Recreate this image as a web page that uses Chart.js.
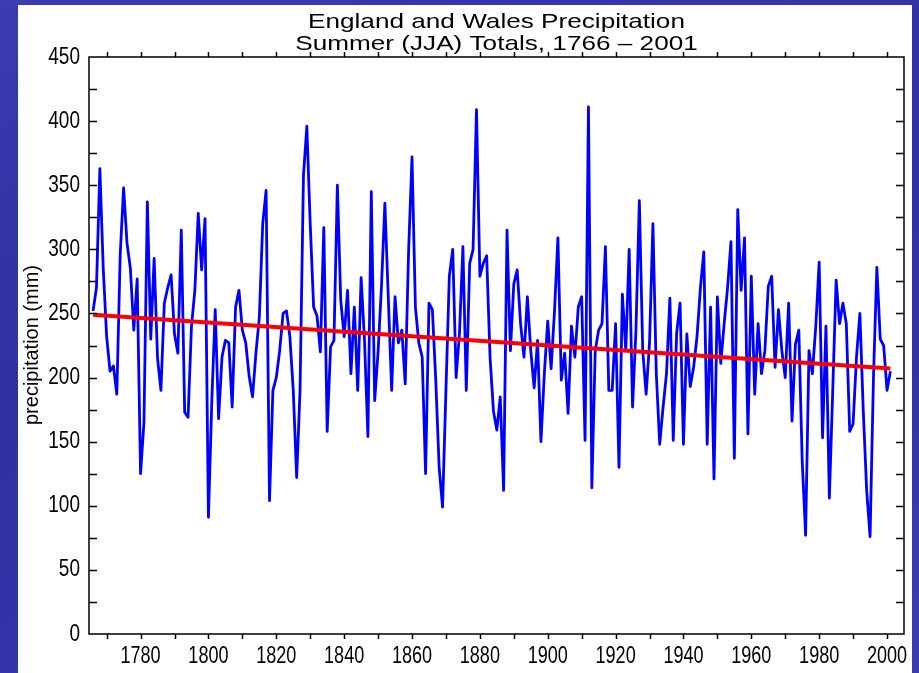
<!DOCTYPE html>
<html>
<head>
<meta charset="utf-8">
<title>England and Wales Precipitation</title>
<script src="https://cdn.jsdelivr.net/npm/chart.js@4.4.1/dist/chart.umd.min.js"></script>
<style>
  html, body { margin: 0; padding: 0; }
  body {
    width: 919px; height: 673px; overflow: hidden; position: relative;
    background: linear-gradient(165deg, #3b3bb2 0%, #2f2fa2 45%, #3a3ab4 100%);
  }
  #panel { position: absolute; left: 18px; top: 5px; width: 894px; height: 668px; background: #fff; }
</style>
</head>
<body>
<div id="panel"><canvas id="myChart" width="894" height="668"></canvas></div>
<script>
// summer (JJA) totals in mm
const precip1766_1799 = [252, 270, 363, 285, 232, 205, 209, 187, 296, 348,
  305, 285, 237, 277, 125, 165, 337, 230, 293, 215,
  190, 258, 270, 280, 234, 219, 315, 173, 169, 240,
  268, 328, 284, 324];
const precip1800_1833 = [91, 182, 253, 168, 216, 229, 227, 177, 255, 268,
  237, 227, 201, 185, 219, 247, 320, 346, 104, 190,
  200, 221, 250, 252, 232, 190, 122, 190, 357, 396,
  320, 255, 248, 220];
const precip1834_1867 = [317, 158, 224, 229, 350, 260, 232, 268, 203, 255,
  190, 278, 229, 154, 345, 182, 220, 271, 336, 263,
  190, 263, 227, 237, 195, 299, 372, 255, 227, 216,
  125, 258, 253, 198];
const precip1868_1901 = [130, 99, 190, 279, 300, 200, 235, 302, 190, 289,
  300, 409, 279, 289, 295, 216, 174, 159, 185, 112,
  315, 221, 273, 284, 242, 216, 263, 221, 192, 229,
  150, 203, 244, 207];
const precip1902_1935 = [252, 309, 198, 219, 172, 240, 216, 255, 263, 151,
  411, 114, 221, 237, 242, 302, 190, 190, 242, 130,
  265, 221, 300, 177, 237, 338, 221, 187, 227, 320,
  203, 148, 177, 203];
const precip1936_1969 = [262, 151, 235, 258, 148, 234, 193, 208, 232, 270,
  298, 148, 255, 121, 263, 211, 242, 270, 306, 137,
  331, 268, 309, 156, 279, 187, 242, 203, 221, 271,
  279, 208, 253, 221];
const precip1970_2001 = [200, 258, 166, 226, 237, 135, 77, 221, 203, 240,
  290, 153, 240, 106, 190, 276, 242, 258, 242, 158,
  164, 216, 250, 174, 112, 76, 200, 286, 230, 225,
  190, 205];

const precip = [].concat(precip1766_1799, precip1800_1833, precip1834_1867,
  precip1868_1901, precip1902_1935, precip1936_1969, precip1970_2001);

const years = [];
for (let yr = 1766; yr <= 2001; yr++) years.push(yr);

// linear trend, end values
const trendYears = [1766, 2001];
const trendValues = [249, 207];

const xTickLabels = [1780, 1800, 1820, 1840, 1860, 1880, 1900, 1920, 1940, 1960, 1980, 2000];
const xTickMarks = [1770, 1780, 1790, 1800, 1810, 1820, 1830, 1840, 1850, 1860, 1870, 1880,
  1890, 1900, 1910, 1920, 1930, 1940, 1950, 1960, 1970, 1980, 1990, 2000];
const yTickLabels = [0, 50, 100, 150, 200, 250, 300, 350, 400, 450];
const yTickMarks = [25, 50, 75, 100, 125, 150, 175, 200, 225, 250, 275, 300, 325, 350, 375, 400, 425];

const titleLines = ['England and Wales Precipitation', 'Summer (JJA) Totals, 1766 \u2013 2001'];
const yTitle = 'precipitation (mm)';

const FONT = '"Liberation Sans", Arial, Helvetica, sans-serif';

function stretchedText(ctx, text, x, y, sx, sy) {
  ctx.save();
  ctx.translate(x, y);
  ctx.scale(sx, sy);
  ctx.fillText(text, 0, 0);
  ctx.restore();
}

// IDL style frame: box, inward y ticks, outward x ticks, labels and titles
const idlFrame = {
  id: 'idlFrame',
  afterDraw(chart) {
    const { ctx, chartArea: a, scales: { x, y } } = chart;
    ctx.save();
    ctx.strokeStyle = '#000';
    ctx.fillStyle = '#000';
    ctx.lineWidth = 1.5;
    ctx.strokeRect(a.left, a.top, a.right - a.left, a.bottom - a.top);

    ctx.beginPath();
    yTickMarks.forEach(v => {
      const py = Math.round(y.getPixelForValue(v)) + 0.5;
      ctx.moveTo(a.left, py); ctx.lineTo(a.left + 8, py);
      ctx.moveTo(a.right, py); ctx.lineTo(a.right - 8, py);
    });
    xTickMarks.forEach(v => {
      const px = Math.round(x.getPixelForValue(v)) + 0.5;
      ctx.moveTo(px, a.bottom); ctx.lineTo(px, a.bottom + 5);
      ctx.moveTo(px, a.top); ctx.lineTo(px, a.top - 5);
    });
    ctx.stroke();

    ctx.font = '19px ' + FONT;
    ctx.textBaseline = 'middle';
    ctx.textAlign = 'right';
    yTickLabels.forEach(v => {
      stretchedText(ctx, String(v), a.left - 9, y.getPixelForValue(v), 1, 1.25);
    });
    ctx.textAlign = 'center';
    xTickLabels.forEach(v => {
      stretchedText(ctx, String(v), x.getPixelForValue(v), a.bottom + 22, 0.95, 1.3);
    });

    ctx.font = '21px ' + FONT;
    ctx.textBaseline = 'alphabetic';
    const cx = (a.left + a.right) / 2;
    stretchedText(ctx, titleLines[0], cx, 23, 1.245, 1);
    stretchedText(ctx, titleLines[1], cx, 45, 1.245, 1);

    ctx.font = '20px ' + FONT;
    ctx.translate(20, 340);
    ctx.rotate(-Math.PI / 2);
    ctx.fillText(yTitle, 0, 0);
    ctx.restore();
  }
};

const ctx = document.getElementById('myChart').getContext('2d');
new Chart(ctx, {
  type: 'line',
  data: {
    datasets: [{
      label: 'trend',
      data: trendYears.map((yr, i) => ({ x: yr, y: trendValues[i] })),
      borderColor: '#ff0000',
      borderWidth: 4,
      pointRadius: 0,
      order: 0
    }, {
      label: 'JJA precipitation',
      data: years.map((yr, i) => ({ x: yr, y: precip[i] })),
      borderColor: '#0000ff',
      borderWidth: 2.8,
      borderJoinStyle: 'round',
      pointRadius: 0,
      tension: 0,
      order: 1
    }]
  },
  options: {
    responsive: false,
    animation: false,
    layout: { padding: { top: 52, right: 8, left: 0, bottom: 0 } },
    plugins: {
      legend: { display: false },
      tooltip: { enabled: false },
      title: { display: false }
    },
    scales: {
      x: {
        type: 'linear', min: 1764.8, max: 2005,
        grid: { display: false }, border: { display: false }, ticks: { display: false },
        afterFit(s) { s.height = 39; }
      },
      y: {
        min: 0, max: 450,
        grid: { display: false }, border: { display: false }, ticks: { display: false },
        afterFit(s) { s.width = 71; }
      }
    }
  },
  plugins: [idlFrame]
});
</script>
</body>
</html>
